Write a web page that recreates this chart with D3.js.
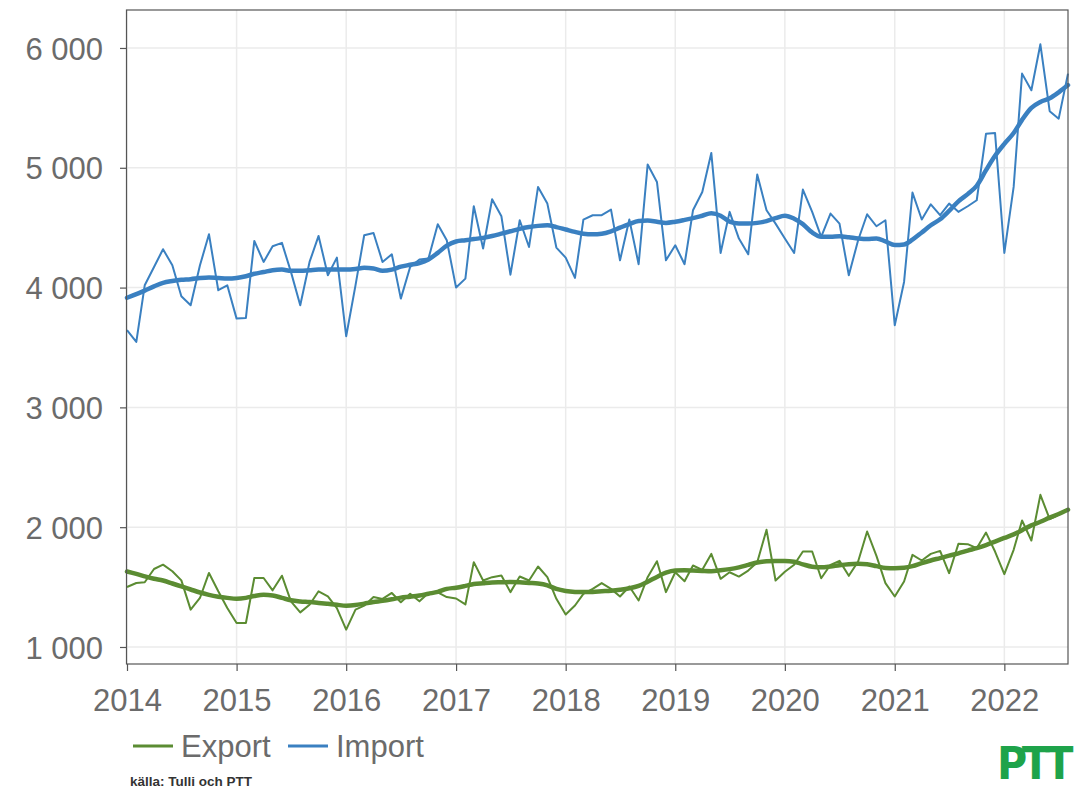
<!DOCTYPE html>
<html>
<head>
<meta charset="utf-8">
<script src="https://cdn.jsdelivr.net/npm/d3@7"></script>
<style>
  body { margin: 0; background: white; }
  text { font-family: "Liberation Sans", Arial, sans-serif; }
</style>
</head>
<body>
<div class="container"></div>
<script>
// monthly values, Jan 2014 - Aug 2022
const importRaw = [3644, 3547, 4019, 4172, 4320, 4186, 3928, 3853, 4186, 4445, 3978, 4019,
  3741, 3747, 4389, 4214, 4345, 4373, 4131, 3853, 4214, 4431, 4103, 4250,
  3594, 4019, 4437, 4456, 4214, 4278, 3908, 4172, 4234, 4242, 4529, 4395,
  4000, 4075, 4679, 4326, 4737, 4595, 4108, 4562, 4339, 4840, 4701, 4334,
  4250, 4081, 4568, 4604, 4604, 4651, 4228, 4568, 4195, 5027, 4882, 4228,
  4353, 4195, 4645, 4798, 5124, 4289, 4632, 4409, 4278, 4943, 4645, 4534,
  4410, 4289, 4818, 4632, 4423, 4618, 4534, 4103, 4395, 4612, 4512, 4562,
  3686, 4047, 4793, 4568, 4695, 4604, 4701, 4632, 4679, 4729, 5285, 5291,
  4289, 4840, 5786, 5647, 6031, 5472, 5410, 5786];
const importTrend = [3915, 3945, 3975, 4010, 4040, 4055, 4065, 4070, 4080, 4085, 4080, 4075,
  4080, 4095, 4115, 4130, 4145, 4150, 4140, 4140, 4145, 4150, 4150, 4150,
  4150, 4155, 4165, 4160, 4140, 4150, 4175, 4190, 4205, 4235, 4290, 4350,
  4385, 4395, 4405, 4415, 4430, 4450, 4470, 4490, 4505, 4515, 4520, 4505,
  4485, 4465, 4450, 4445, 4450, 4470, 4500, 4530, 4555, 4560, 4550, 4540,
  4550, 4565, 4580, 4600, 4620, 4600, 4550, 4535, 4535, 4540, 4555, 4580,
  4600, 4575, 4530, 4460, 4425, 4425, 4428, 4420, 4410, 4405, 4410, 4385,
  4355, 4360, 4400, 4460, 4520, 4570, 4640, 4720, 4780, 4850, 4980, 5100,
  5200, 5290, 5400, 5500, 5550, 5580, 5630, 5690];
const exportRaw = [1501, 1534, 1540, 1651, 1687, 1632, 1556, 1312, 1409, 1618, 1465, 1325,
  1200, 1200, 1576, 1576, 1473, 1595, 1381, 1289, 1353, 1465, 1423, 1325,
  1145, 1312, 1345, 1417, 1401, 1451, 1373, 1445, 1381, 1451, 1456, 1417,
  1405, 1355, 1708, 1555, 1583, 1597, 1458, 1588, 1555, 1672, 1583, 1402,
  1271, 1346, 1444, 1485, 1533, 1485, 1421, 1505, 1388, 1583, 1716, 1458,
  1624, 1549, 1680, 1644, 1777, 1569, 1624, 1588, 1638, 1708, 1978, 1555,
  1628, 1686, 1797, 1797, 1574, 1686, 1719, 1594, 1713, 1964, 1761, 1533,
  1421, 1547, 1769, 1722, 1777, 1802, 1616, 1861, 1858, 1825, 1955, 1797,
  1608, 1811, 2056, 1889, 2270, 2067, 2103, 2150];
const exportTrend = [1630, 1610, 1590, 1570, 1555, 1530, 1505, 1480, 1455, 1435, 1420, 1410,
  1403, 1410, 1425, 1435, 1430, 1410, 1390, 1380, 1375, 1368, 1360, 1352,
  1345, 1350, 1362, 1375, 1385, 1398, 1412, 1420, 1430, 1445, 1460, 1485,
  1495, 1510, 1525, 1532, 1538, 1540, 1542, 1540, 1535, 1530, 1515, 1485,
  1468, 1460, 1458, 1460, 1465, 1470, 1478, 1490, 1510, 1545, 1585, 1620,
  1638, 1640, 1638, 1635, 1633, 1640, 1650, 1665, 1685, 1705, 1715, 1718,
  1718, 1712, 1690, 1670, 1665, 1672, 1682, 1690, 1694, 1690, 1675, 1660,
  1658, 1662, 1675, 1700, 1722, 1742, 1762, 1782, 1805, 1825, 1850, 1880,
  1910, 1940, 1975, 2015, 2045, 2080, 2110, 2145];
const yTicks = [1000, 2000, 3000, 4000, 5000, 6000];
const yearTicks = [2014, 2015, 2016, 2017, 2018, 2019, 2020, 2021, 2022];
const seriesNames = ["Export", "Import"];
const sourceText = "källa: Tulli och PTT";

const w = 1074;
const h = 789;
const plotLeft = 127, plotRight = 1068, plotTop = 10, plotBottom = 664;
const green = "#5b8c32";
const blue = "#3a80c1";
const labelColor = "#6b6b6b";

const start = new Date(2014, 0, 1);
const months = d3.timeMonth.range(start, new Date(2022, 8, 1));

const svg = d3.select(".container")
    .append("svg")
    .attr("width", w)
    .attr("height", h);

const xScale = d3.scaleTime()
    .domain([start, new Date(2022, 7, 1)])
    .range([plotLeft, plotRight]);

const yScale = d3.scaleLinear()
    .domain([858, 6317])
    .range([plotBottom, plotTop]);

const fmt = d3.formatLocale({ decimal: ",", thousands: " ", grouping: [3], currency: ["", ""] }).format(",d");

// grid
svg.append("g")
    .selectAll("line")
    .data(yTicks)
    .enter()
    .append("line")
    .attr("x1", plotLeft).attr("x2", plotRight)
    .attr("y1", d => yScale(d)).attr("y2", d => yScale(d))
    .attr("stroke", "#ebebeb")
    .attr("stroke-width", 1.5);

svg.append("g")
    .selectAll("line")
    .data(yearTicks)
    .enter()
    .append("line")
    .attr("x1", d => xScale(new Date(d, 0, 1))).attr("x2", d => xScale(new Date(d, 0, 1)))
    .attr("y1", plotTop).attr("y2", plotBottom)
    .attr("stroke", "#ebebeb")
    .attr("stroke-width", 1.5);

// axes
const yAxis = d3.axisLeft(yScale)
    .tickValues(yTicks)
    .tickFormat(fmt)
    .tickSize(7)
    .tickPadding(17);

const xAxis = d3.axisBottom(xScale)
    .tickValues(yearTicks.map(y => new Date(y, 0, 1)))
    .tickFormat(d3.timeFormat("%Y"))
    .tickSize(7)
    .tickPadding(18);

const gy = svg.append("g")
    .attr("transform", "translate(" + plotLeft + ",0)")
    .call(yAxis);

const gx = svg.append("g")
    .attr("transform", "translate(0," + plotBottom + ")")
    .call(xAxis);

[gx, gy].forEach(g => {
    g.select(".domain").remove();
    g.selectAll(".tick line").attr("stroke", "#555").attr("stroke-width", 1.2);
    g.selectAll(".tick text")
        .attr("fill", labelColor)
        .style("font-size", "31px")
        .style("font-family", "'Liberation Sans', Arial, sans-serif");
});
gy.selectAll(".tick text").attr("dy", "0.36em");

// lines
const line = d3.line()
    .x((d, i) => xScale(months[i]))
    .y(d => yScale(d));

const lineSmooth = d3.line()
    .x((d, i) => xScale(months[i]))
    .y(d => yScale(d))
    .curve(d3.curveMonotoneX);

const plot = svg.append("g");

plot.append("path").datum(exportRaw)
    .attr("d", line).attr("fill", "none")
    .attr("stroke", green).attr("stroke-width", 2).attr("stroke-linejoin", "round");
plot.append("path").datum(importRaw)
    .attr("d", line).attr("fill", "none")
    .attr("stroke", blue).attr("stroke-width", 2).attr("stroke-linejoin", "round");
plot.append("path").datum(exportTrend)
    .attr("d", lineSmooth).attr("fill", "none")
    .attr("stroke", green).attr("stroke-width", 4.5).attr("stroke-linecap", "round");
plot.append("path").datum(importTrend)
    .attr("d", lineSmooth).attr("fill", "none")
    .attr("stroke", blue).attr("stroke-width", 4.5).attr("stroke-linecap", "round");

// frame
svg.append("rect")
    .attr("x", plotLeft - 0.5).attr("y", plotTop)
    .attr("width", plotRight - plotLeft + 0.5).attr("height", plotBottom - plotTop)
    .attr("fill", "none")
    .attr("stroke", "#555")
    .attr("stroke-width", 1.2);

// legend
const legendX = [133, 288];
const legend = svg.append("g")
    .selectAll("g")
    .data(seriesNames)
    .enter()
    .append("g")
    .attr("transform", (d, i) => "translate(" + legendX[i] + ",746)");

legend.append("line")
    .attr("x1", 0).attr("x2", 40)
    .attr("stroke", (d, i) => i === 0 ? green : blue)
    .attr("stroke-width", 3);

legend.append("text")
    .attr("x", 48)
    .attr("dy", "0.36em")
    .attr("fill", labelColor)
    .style("font-size", "31px")
    .text(d => d);

// source
svg.append("text")
    .attr("x", 130)
    .attr("y", 786)
    .attr("fill", "#333")
    .style("font-family", "'Liberation Sans Narrow', 'Liberation Sans', Arial, sans-serif")
    .style("font-size", "13.5px")
    .style("font-weight", "bold")
    .text(sourceText);

// logo
svg.append("text")
    .attr("x", 997)
    .attr("y", 779)
    .attr("fill", "#1ea34a")
    .attr("textLength", 71)
    .attr("lengthAdjust", "spacingAndGlyphs")
    .style("font-family", "'DejaVu Sans', sans-serif")
    .style("font-size", "45px")
    .style("font-weight", "bold")
    .style("letter-spacing", "-6px")
    .text("PTT");
</script>
</body>
</html>
